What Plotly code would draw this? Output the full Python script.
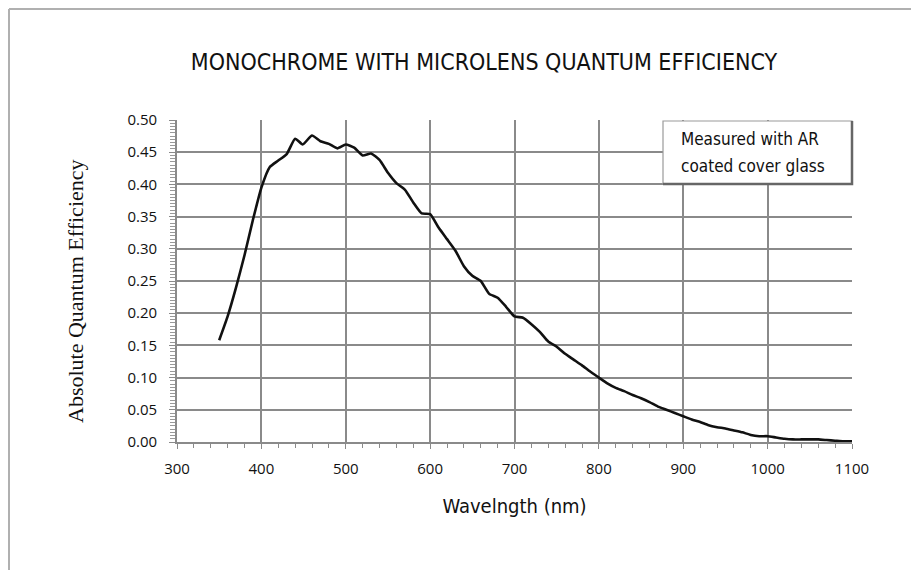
import plotly.graph_objects as go

wavelength = [350, 360, 370, 380, 390, 400, 410, 420, 430, 440, 449, 460, 470, 480, 490,
              500, 510, 520, 530, 540, 550, 560, 570, 580, 590, 600, 610, 620, 630, 640,
              650, 660, 670, 680, 690, 700, 710, 720, 730, 740, 750, 760, 770, 780, 790,
              800, 810, 820, 830, 840, 850, 860, 870, 880, 890, 900, 910, 920, 930, 940,
              950, 960, 970, 980, 990, 1000, 1010, 1020, 1030, 1040, 1050, 1060, 1070,
              1080, 1090, 1100]
qe = [0.158, 0.195, 0.240, 0.290, 0.345, 0.395, 0.427, 0.437, 0.447, 0.471, 0.462, 0.476,
      0.467, 0.463, 0.456, 0.462, 0.457, 0.445, 0.448, 0.438, 0.418, 0.402, 0.392, 0.372,
      0.355, 0.354, 0.333, 0.315, 0.297, 0.273, 0.258, 0.250, 0.230, 0.224, 0.210, 0.195,
      0.193, 0.183, 0.171, 0.156, 0.148, 0.137, 0.128, 0.119, 0.109, 0.100, 0.091, 0.084,
      0.079, 0.073, 0.068, 0.062, 0.055, 0.050, 0.045, 0.040, 0.035, 0.031, 0.026, 0.023,
      0.021, 0.018, 0.015, 0.011, 0.009, 0.009, 0.007, 0.005, 0.004, 0.004, 0.004, 0.004,
      0.003, 0.002, 0.001, 0.001]

title_text = "MONOCHROME WITH MICROLENS QUANTUM EFFICIENCY"
x_title = "Wavelngth (nm)"
y_title = "Absolute Quantum Efficiency"
note_lines = ["Measured with AR", "coated cover glass"]

W, H = 919, 570
OFF = 8  # page body margin
L, R, T, B = 177 - OFF, 919 - 852 + OFF, 120 - OFF, 570 - 442 + OFF
pw, ph = W - L - R, H - T - B

def px(x):
    return (x - OFF - L) / pw

def py(y):
    return (H - B - (y - OFF)) / ph

grid = "#8a8a8a"
sans = "Open Sans, Noto Sans, sans-serif"
narrow = "DejaVu Sans Condensed, Liberation Sans Narrow, sans-serif"

fig = go.Figure()
fig.add_trace(go.Scatter(x=wavelength, y=qe, mode="lines",
                         line=dict(color="#111111", width=2.6, shape="spline", smoothing=0.5),
                         showlegend=False, hoverinfo="x+y"))

fig.update_layout(
    width=W, height=H,
    margin=dict(l=L, r=R, t=T, b=B),
    paper_bgcolor="white", plot_bgcolor="white",
    title=dict(text=title_text, xref="container", x=(484 - OFF) / W, xanchor="center",
               y=1 - (62 - OFF) / H, yanchor="middle",
               font=dict(family=narrow, size=23, color="#111111")),
    xaxis=dict(range=[300, 1100], tick0=300, dtick=100, showgrid=True, gridcolor=grid,
               gridwidth=1.6, zeroline=False, showline=True, linecolor=grid, linewidth=1.6,
               ticks="outside", ticklen=5, tickcolor=grid, tickwidth=1.2,
               minor=dict(dtick=20, ticks="outside", ticklen=4, tickcolor=grid, showgrid=False),
               tickfont=dict(family=sans, size=15, color="#111111"), ticklabelstandoff=7,
               title=dict(text=x_title, font=dict(family=narrow, size=20, color="#111111"),
                          standoff=22)),
    yaxis=dict(range=[0, 0.5], tick0=0, dtick=0.05, tickformat=".2f", showgrid=True,
               gridcolor=grid, gridwidth=1.6, zeroline=False, showline=True, linecolor=grid,
               linewidth=1.6, ticks="outside", ticklen=6, tickcolor=grid, tickwidth=1.2,
               minor=dict(dtick=0.005, ticks="outside", ticklen=5, tickcolor="#999999",
                          tickwidth=1.2, showgrid=False),
               tickfont=dict(family=sans, size=15, color="#111111"), ticklabelstandoff=9),
)

# y-axis title placed as rotated text
fig.add_annotation(text=y_title, xref="paper", yref="paper", x=px(75), y=py(291),
                   xanchor="center", yanchor="middle", textangle=-90, showarrow=False,
                   font=dict(family="Liberation Serif, serif", size=22, color="#111111"))

# outer frame (top and left edges)
fig.add_shape(type="line", xref="paper", yref="paper", x0=px(OFF + 1), x1=px(W + 10),
              y0=py(OFF + 1), y1=py(OFF + 1), line=dict(color="#b0b0b0", width=2))
fig.add_shape(type="line", xref="paper", yref="paper", x0=px(OFF + 1), x1=px(OFF + 1),
              y0=py(OFF + 1), y1=py(H + 10), line=dict(color="#b0b0b0", width=2))

# note box with shadow
fig.add_shape(type="rect", xref="paper", yref="paper", x0=px(663), x1=px(852), y0=py(184), y1=py(121),
              fillcolor="white", line=dict(color="#9a9a9a", width=1.2), layer="above")
fig.add_shape(type="path", xref="paper", yref="paper",
              path=f"M {px(852)} {py(121)} L {px(852)} {py(184)} L {px(663)} {py(184)}",
              line=dict(color="#666666", width=2.5), layer="above")
for i, t in enumerate(note_lines):
    fig.add_annotation(text=t, xref="paper", yref="paper", x=px(679), y=py(139 + 27 * i),
                       xanchor="left", yanchor="middle", showarrow=False,
                       font=dict(family=narrow, size=17, color="#111111"))

fig.write_html("out.html")
